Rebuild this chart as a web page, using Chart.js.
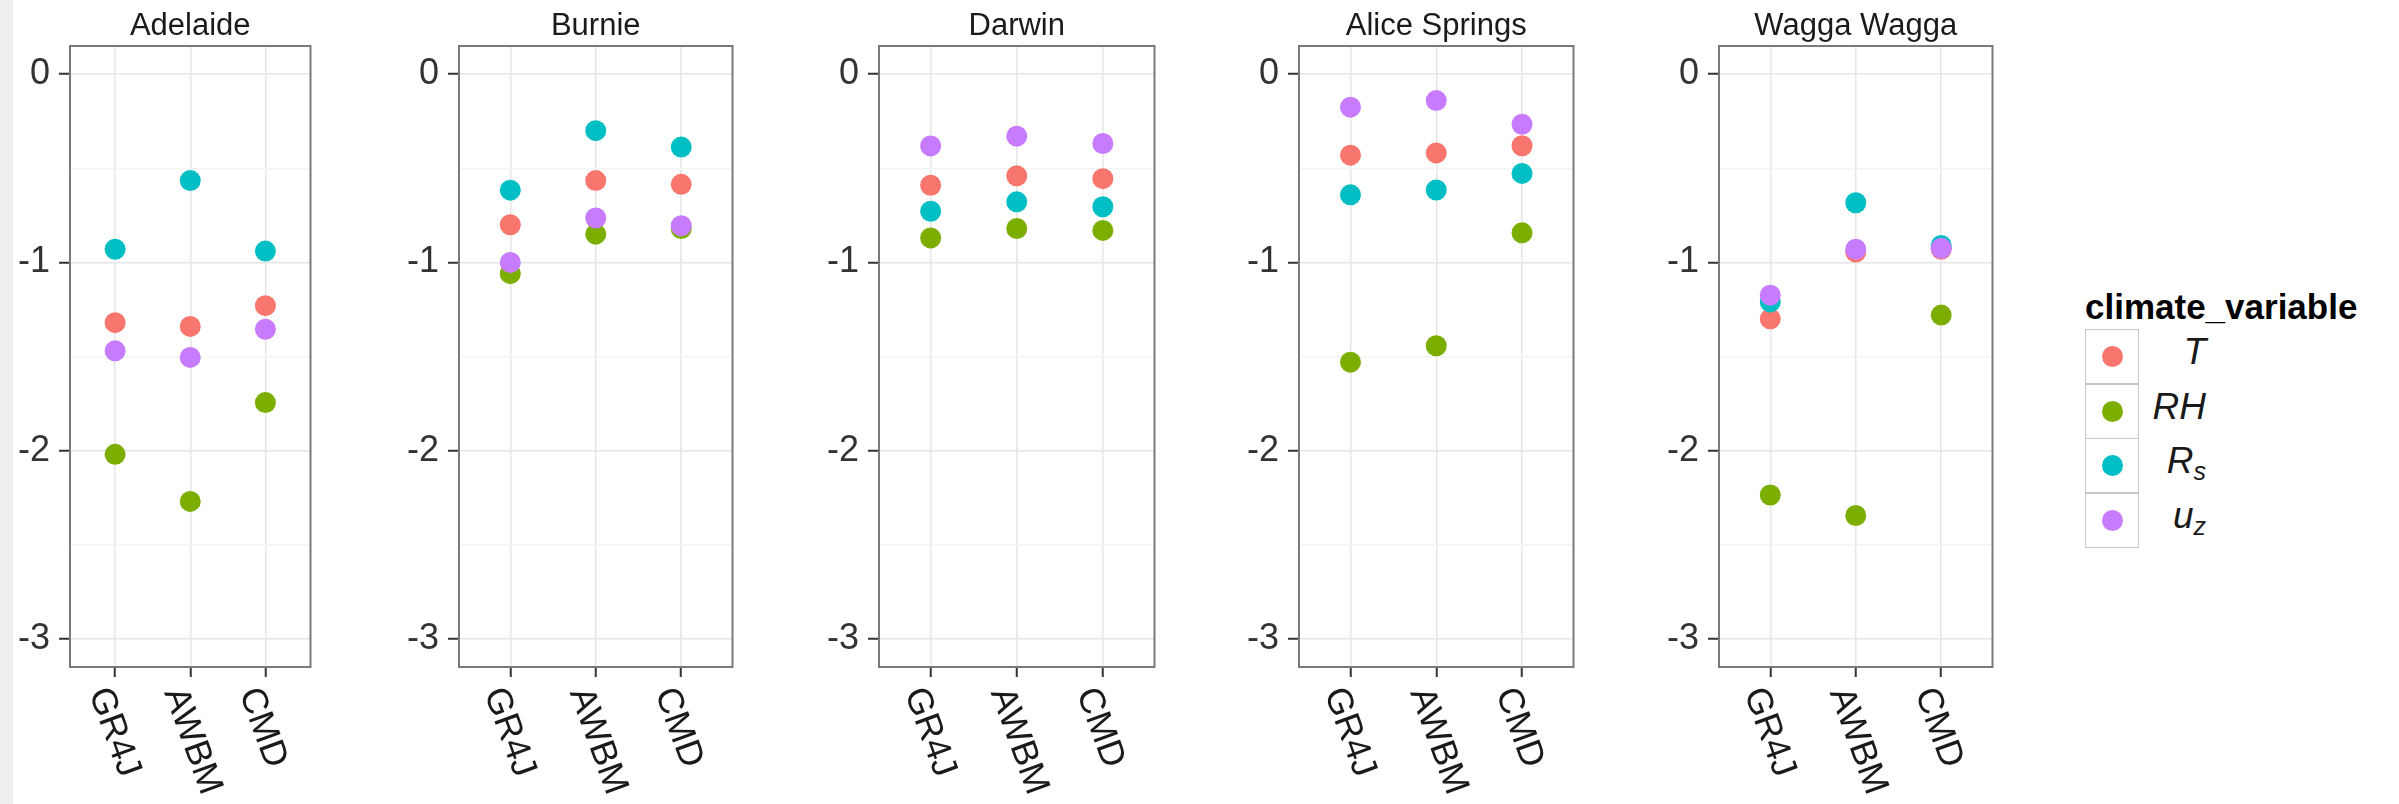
<!DOCTYPE html>
<html>
<head>
<meta charset="utf-8">
<script src="https://cdn.jsdelivr.net/npm/chart.js@4.4.0/dist/chart.umd.min.js"></script>
<style>
  html, body { margin: 0; padding: 0; background: #fff; }
  body { width: 2399px; height: 804px; position: relative; overflow: hidden; font-family: "Liberation Sans", Arial, sans-serif; }
  #edge { position: absolute; left: 0; top: 0; width: 13px; height: 804px; background: #efefef; }
  canvas.panel { position: absolute; top: 0; }
  #legend-title { position: absolute; left: 2085px; top: 289px; font: bold 35px "Liberation Sans", Arial, sans-serif; line-height: 35px; color: #000; white-space: nowrap; }
  .key { position: absolute; left: 2085px; width: 54px; height: 55px; box-sizing: border-box; border: 1.5px solid #c8c8c8; background: #fff; }
  .key span { position: absolute; left: 50%; top: 50%; width: 21px; height: 21px; margin: -10.5px 0 0 -10.5px; border-radius: 50%; }
  .key-label { position: absolute; left: 2139px; width: 67px; height: 55px; line-height: 55px; text-align: right; font: italic 37px "Liberation Sans", Arial, sans-serif; color: #1a1a1a; white-space: nowrap; }
  .key-label sub { font-size: 25px; vertical-align: -7px; line-height: 0; }
</style>
</head>
<body>
<div id="edge"></div>
<div id="charts"></div>
<div id="legend"></div>
<script>
// facets, x categories, colour groups
var sites = ['Adelaide', 'Burnie', 'Darwin', 'Alice Springs', 'Wagga Wagga'];
var models = ['GR4J', 'AWBM', 'CMD'];
var variables = ['T', 'RH', 'Rs', 'uz'];
var yTicks = [0, -1, -2, -3];
var yGrid = [0, -0.5, -1, -1.5, -2, -2.5, -3];

// one row per site, columns GR4J, AWBM, CMD
var tValues = [
  [-1.32, -1.34, -1.23],
  [-0.80, -0.565, -0.585],
  [-0.59, -0.54, -0.555],
  [-0.43, -0.418, -0.38],
  [-1.30, -0.945, -0.93]
];
var rhValues = [
  [-2.02, -2.27, -1.745],
  [-1.06, -0.85, -0.82],
  [-0.87, -0.82, -0.83],
  [-1.53, -1.443, -0.843],
  [-2.236, -2.345, -1.28]
];
var rsValues = [
  [-0.93, -0.565, -0.94],
  [-0.616, -0.30, -0.387],
  [-0.728, -0.678, -0.704],
  [-0.641, -0.615, -0.527],
  [-1.21, -0.683, -0.91]
];
var uzValues = [
  [-1.47, -1.505, -1.355],
  [-1.00, -0.764, -0.805],
  [-0.381, -0.329, -0.368],
  [-0.175, -0.14, -0.266],
  [-1.174, -0.93, -0.925]
];

var allValues = [tValues, rhValues, rsValues, uzValues];
var colors = ['#F8766D', '#7CAE00', '#00BFC4', '#C77CFF'];
var legendLabels = ['T', 'RH', 'R<sub>s</sub>', 'u<sub>z</sub>'];

// layout of the panels on the page
var panelLeft = [70, 459, 879, 1299, 1719];
var panelWidth = [247, 280, 282, 281, 280];
var panelTop = 46, panelBottom = 667, pageHeight = 804;
var axisWidth = 69;
var FONT = '"Liberation Sans", Arial, sans-serif';

var panelPlugin = {
  id: 'panelDeco',
  afterDraw: function(chart) {
    var ctx = chart.ctx, a = chart.chartArea;
    var xs = chart.scales.x;
    ctx.save();
    // panel border
    ctx.strokeStyle = '#7a7a7a';
    ctx.lineWidth = 2;
    ctx.strokeRect(a.left, a.top, a.right - a.left, a.bottom - a.top);
    // facet title
    ctx.fillStyle = '#1a1a1a';
    ctx.font = '31px ' + FONT;
    ctx.textAlign = 'center';
    ctx.textBaseline = 'alphabetic';
    ctx.fillText(chart.options.plugins.panelDeco.title, (a.left + a.right) / 2, 35);
    // rotated x labels
    ctx.font = '36px ' + FONT;
    ctx.fillStyle = '#1a1a1a';
    ctx.textAlign = 'left';
    ctx.textBaseline = 'top';
    xs.ticks.forEach(function(t) {
      var px = xs.getPixelForValue(t.value);
      ctx.save();
      ctx.translate(px, a.bottom + 16);
      ctx.rotate(70 * Math.PI / 180);
      ctx.fillText(models[t.value], 0, 0);
      ctx.restore();
    });
    ctx.restore();
  }
};

var holder = document.getElementById('charts');

sites.forEach(function(site, s) {
  var cv = document.createElement('canvas');
  cv.className = 'panel';
  var w = axisWidth + panelWidth[s] + 4;
  cv.width = w;
  cv.height = pageHeight;
  cv.style.left = (panelLeft[s] - axisWidth) + 'px';
  cv.style.width = w + 'px';
  cv.style.height = pageHeight + 'px';
  holder.appendChild(cv);

  var datasets = variables.map(function(v, k) {
    return {
      label: v,
      data: allValues[k][s].map(function(y, i) { return {x: i, y: y}; }),
      backgroundColor: colors[k],
      borderWidth: 0,
      pointRadius: 10.5,
      pointHoverRadius: 10.5,
      order: variables.length - k
    };
  });

  new Chart(cv, {
    type: 'scatter',
    data: {datasets: datasets},
    options: {
      responsive: false,
      animation: false,
      events: [],
      layout: {padding: {top: panelTop, right: 4, left: 0, bottom: 0}},
      plugins: {
        legend: {display: false},
        tooltip: {enabled: false},
        panelDeco: {title: site}
      },
      scales: {
        x: {
          type: 'linear',
          min: -0.6,
          max: 2.6,
          afterBuildTicks: function(sc) { sc.ticks = models.map(function(m, i) { return {value: i}; }); },
          afterFit: function(sc) { sc.height = pageHeight - panelBottom; },
          ticks: {display: false},
          grid: {color: '#e6e6e6', lineWidth: 1.5, tickColor: '#333', tickWidth: 2, tickLength: 10, drawTicks: true},
          border: {display: false}
        },
        y: {
          min: -3.15,
          max: 0.15,
          afterBuildTicks: function(sc) { sc.ticks = yGrid.map(function(v) { return {value: v}; }); },
          afterFit: function(sc) { sc.width = axisWidth; },
          ticks: {
            font: {size: 36, family: FONT},
            color: '#333',
            padding: 9,
            callback: function(v) { return yTicks.indexOf(v) >= 0 ? String(v) : ''; }
          },
          grid: {
            color: function(c) { return c.tick && yTicks.indexOf(c.tick.value) >= 0 ? '#e6e6e6' : '#f4f4f4'; },
            tickColor: function(c) { return c.tick && yTicks.indexOf(c.tick.value) >= 0 ? '#333' : 'rgba(0,0,0,0)'; },
            lineWidth: 1.5,
            tickWidth: 2,
            tickLength: 11
          },
          border: {display: false}
        }
      }
    },
    plugins: [panelPlugin]
  });
});

// legend
var legend = document.getElementById('legend');
var title = document.createElement('div');
title.id = 'legend-title';
title.textContent = 'climate_variable';
legend.appendChild(title);
variables.forEach(function(v, k) {
  var top = 329 + k * 54.5;
  var key = document.createElement('div');
  key.className = 'key';
  key.style.top = top + 'px';
  key.innerHTML = '<span style="background:' + colors[k] + '"></span>';
  legend.appendChild(key);
  var lab = document.createElement('div');
  lab.className = 'key-label';
  lab.style.top = (top + 2) + 'px';
  lab.innerHTML = legendLabels[k];
  legend.appendChild(lab);
});
</script>
</body>
</html>
